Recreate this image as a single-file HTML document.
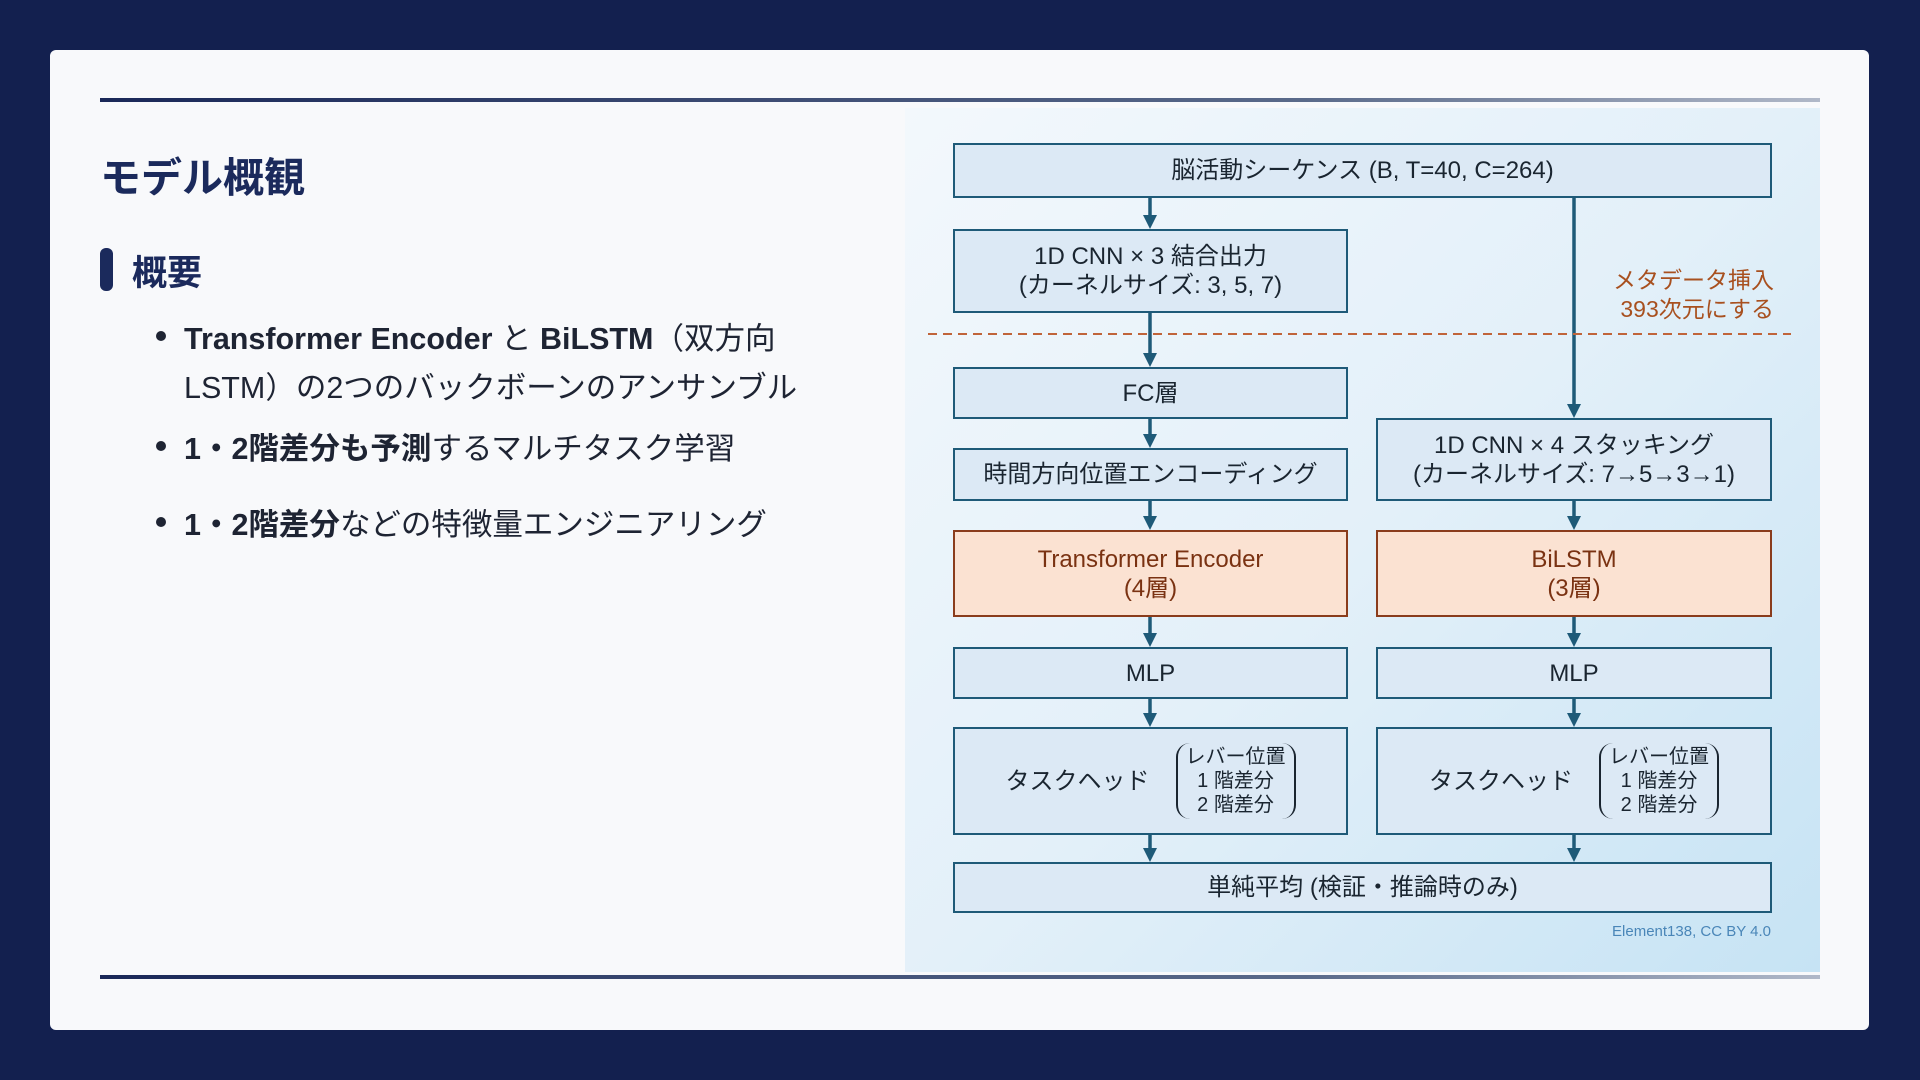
<!DOCTYPE html>
<html><head><meta charset="utf-8"><style>
*{margin:0;padding:0;box-sizing:border-box}
body{width:1920px;height:1080px;background:#13204f;position:relative;overflow:hidden;font-family:"Liberation Sans","Noto Sans CJK JP",sans-serif}
.card{position:absolute;left:50px;top:50px;width:1819px;height:980px;background:#f8f9fb;border-radius:6px}
.hl{position:absolute;left:100px;width:1720px;height:4px;background:linear-gradient(90deg,#1a2858,#5a6a8a 70%,#b0b8c8)}
.panel{position:absolute;left:905px;top:108px;width:915px;height:864px;background:linear-gradient(135deg,#f3f8fc 0%,#e3f0f9 50%,#c6e3f4 100%)}
.b{position:absolute;background:#dce9f5;border:2.5px solid #1e5a78;display:flex;align-items:center;justify-content:center;text-align:center;color:#1a2530;font-family:"Liberation Sans Narrow","Liberation Sans","Noto Sans CJK JP",sans-serif;font-size:24px;line-height:29px}
.o{background:#fbe2d2;border-color:#8a3c1c;color:#7a3212}
.t{position:absolute;color:#1b2a5c;white-space:nowrap}
.li{font-size:30.5px;color:#1e2433}
.dot{position:absolute;width:10px;height:10px;border-radius:5px;background:#1e2433}
</style></head><body>
<div class="card"></div>
<div class="hl" style="top:98px"></div>
<div class="hl" style="top:975px"></div>
<div class="t" style="left:100px;top:144px;font-size:41px;font-weight:bold">モデル概観</div>
<div style="position:absolute;left:100px;top:248px;width:13px;height:43px;border-radius:6px;background:#1b2a5c"></div>
<div class="t" style="left:132px;top:245px;font-size:35px;font-weight:bold">概要</div>
<div class="dot" style="left:156px;top:331px"></div>
<div class="t li" style="left:184px;top:314px"><b>Transformer Encoder</b> と <b>BiLSTM</b>（双方向</div>
<div class="t li" style="left:184px;top:363px">LSTM）の2つのバックボーンのアンサンブル</div>
<div class="dot" style="left:156px;top:441px"></div>
<div class="t li" style="left:184px;top:424px"><b>1・2階差分も予測</b>するマルチタスク学習</div>
<div class="dot" style="left:156px;top:517px"></div>
<div class="t li" style="left:184px;top:500px"><b>1・2階差分</b>などの特徴量エンジニアリング</div>

<div class="panel"></div>
<svg style="position:absolute;left:0;top:0" width="1920" height="1080">
<g stroke="#1e5a78" stroke-width="3.5" fill="none">
<line x1="1150" y1="198" x2="1150" y2="218"/>
<line x1="1150" y1="313" x2="1150" y2="356"/>
<line x1="1150" y1="419" x2="1150" y2="437"/>
<line x1="1150" y1="501" x2="1150" y2="519"/>
<line x1="1150" y1="617" x2="1150" y2="636"/>
<line x1="1150" y1="699" x2="1150" y2="716"/>
<line x1="1150" y1="835" x2="1150" y2="851"/>
<line x1="1574" y1="198" x2="1574" y2="407"/>
<line x1="1574" y1="501" x2="1574" y2="519"/>
<line x1="1574" y1="617" x2="1574" y2="636"/>
<line x1="1574" y1="699" x2="1574" y2="716"/>
<line x1="1574" y1="835" x2="1574" y2="851"/>
</g>
<g fill="#1e5a78">
<polygon points="1143,215 1157,215 1150,229"/>
<polygon points="1143,353 1157,353 1150,367"/>
<polygon points="1143,434 1157,434 1150,448"/>
<polygon points="1143,516 1157,516 1150,530"/>
<polygon points="1143,633 1157,633 1150,647"/>
<polygon points="1143,713 1157,713 1150,727"/>
<polygon points="1143,848 1157,848 1150,862"/>
<polygon points="1567,404 1581,404 1574,418"/>
<polygon points="1567,516 1581,516 1574,530"/>
<polygon points="1567,633 1581,633 1574,647"/>
<polygon points="1567,713 1581,713 1574,727"/>
<polygon points="1567,848 1581,848 1574,862"/>
</g>
<line x1="928" y1="334" x2="1791" y2="334" stroke="#c0643a" stroke-width="2" stroke-dasharray="9,6"/>
</svg>
<div class="b" style="left:953px;top:143px;width:819px;height:55px">脳活動シーケンス (B, T=40, C=264)</div>
<div class="b" style="left:953px;top:229px;width:395px;height:84px">1D CNN × 3 結合出力<br>(カーネルサイズ: 3, 5, 7)</div>
<div class="t" style="left:1560px;top:266px;width:214px;text-align:right;color:#a8501f;font-size:23px;line-height:29px;font-family:'Liberation Sans Narrow','Liberation Sans','Noto Sans CJK JP',sans-serif">メタデータ挿入<br>393次元にする</div>
<div class="b" style="left:953px;top:367px;width:395px;height:52px">FC層</div>
<div class="b" style="left:953px;top:448px;width:395px;height:53px">時間方向位置エンコーディング</div>
<div class="b" style="left:1376px;top:418px;width:396px;height:83px">1D CNN × 4 スタッキング<br>(カーネルサイズ: 7→5→3→1)</div>
<div class="b o" style="left:953px;top:530px;width:395px;height:87px">Transformer Encoder<br>(4層)</div>
<div class="b o" style="left:1376px;top:530px;width:396px;height:87px">BiLSTM<br>(3層)</div>
<div class="b" style="left:953px;top:647px;width:395px;height:52px">MLP</div>
<div class="b" style="left:1376px;top:647px;width:396px;height:52px">MLP</div>
<div class="b" style="left:953px;top:727px;width:395px;height:108px"><span style="margin-right:26px">タスクヘッド</span><span style="font-size:20px;line-height:24px;border-left:2px solid #1a2530;border-right:2px solid #1a2530;border-radius:14px;padding:2px 8px">レバー位置<br>1 階差分<br>2 階差分</span></div>
<div class="b" style="left:1376px;top:727px;width:396px;height:108px"><span style="margin-right:26px">タスクヘッド</span><span style="font-size:20px;line-height:24px;border-left:2px solid #1a2530;border-right:2px solid #1a2530;border-radius:14px;padding:2px 8px">レバー位置<br>1 階差分<br>2 階差分</span></div>
<div class="b" style="left:953px;top:862px;width:819px;height:51px">単純平均 (検証・推論時のみ)</div>
<div class="t" style="left:1570px;top:923px;width:201px;text-align:right;color:#4a86b8;font-size:15px;font-family:'Liberation Sans Narrow','Liberation Sans',sans-serif">Element138, CC BY 4.0</div>
</body></html>
